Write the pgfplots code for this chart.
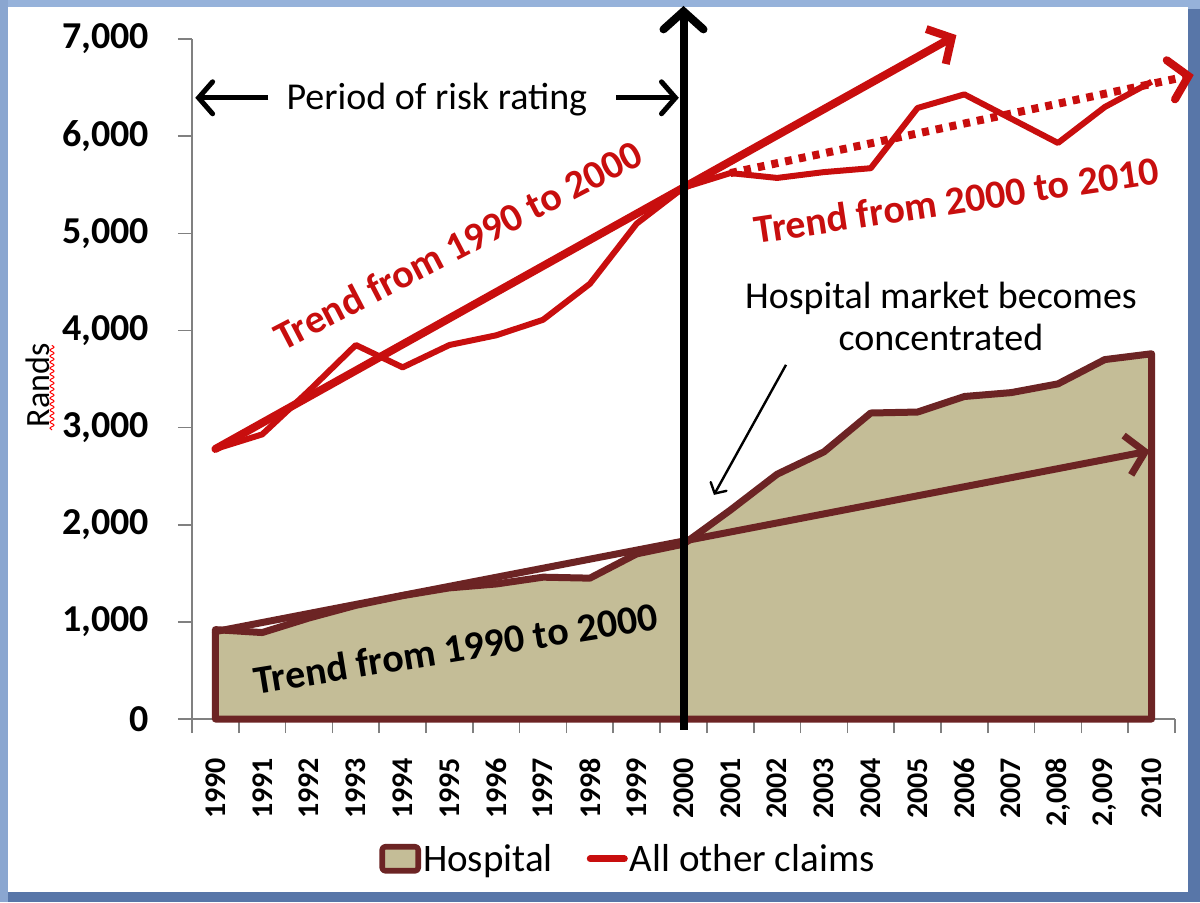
\documentclass[border=0pt]{standalone}
\usepackage{fontspec}
\setmainfont{Carlito}
\usepackage{pgfplots}
\pgfplotsset{compat=1.18}
\usetikzlibrary{arrows.meta,decorations.pathmorphing}
\definecolor{hred}{RGB}{200,14,14}
\definecolor{tanf}{RGB}{196,189,151}
\definecolor{brn}{RGB}{108,36,36}
\definecolor{frameblue}{RGB}{88,118,168}
\definecolor{framelight}{RGB}{150,178,218}
\definecolor{axgray}{RGB}{128,128,128}
\begin{document}
\begin{tikzpicture}
\useasboundingbox (-96pt,-91.5pt) rectangle (504pt,359.5pt);
\fill[frameblue] (-96pt,-91.5pt) rectangle (504pt,359.5pt);
\fill[framelight] (-96pt,355pt) rectangle (504pt,359.5pt);
\fill[framelight!80!frameblue] (-96pt,-91.5pt) rectangle (-92pt,359.5pt);
\fill[white] (-92pt,-86.5pt) rectangle (498pt,356pt);
\begin{axis}[
  at={(0pt,0pt)}, anchor=south west,
  scale only axis, width=491.5pt, height=340pt,
  xmin=-0.5, xmax=20.5, ymin=0, ymax=7000,
  clip=false,
  axis x line*=bottom, axis y line*=left,
  axis line style={axgray, line width=0.8pt, -},
  tick align=outside,
  major tick length=7pt, minor tick length=7pt,
  xtick={0,...,20},
  xticklabels={1990,1991,1992,1993,1994,1995,1996,1997,1998,1999,2000,2001,2002,2003,2004,2005,2006,2007,{2,008},{2,009},2010},
  minor xtick={-0.5,0.5,...,20.5},
  major x tick style={draw=none},
  minor x tick style={axgray, line width=0.8pt},
  major y tick style={axgray, line width=0.8pt},
  xticklabel style={rotate=90, anchor=east, font=\fontsize{15}{15}\selectfont\bfseries, xshift=-9pt},
  ytick={0,1000,...,7000},
  scaled y ticks=false,
  yticklabel style={font=\fontsize{19}{19}\selectfont\bfseries, xshift=-11pt},
  /pgf/number format/.cd, 1000 sep={,}, assume math mode=true,
  /pgfplots/.cd,
  ylabel={Rands},
  ylabel style={at={(axis description cs:-0.157,0.491)}, anchor=center, font=\fontsize{17}{17}\selectfont},
  legend style={at={(0.4435,-0.207)}, anchor=center, legend columns=2, draw=none, fill=none,
    font=\fontsize{19.5}{19.5}\selectfont, nodes={inner xsep=1pt},
    /tikz/every even column/.append style={column sep=16pt}},
]
\addplot[fill=tanf, draw=brn, line width=3.5pt, line join=round,
  legend image code/.code={\draw[fill=tanf,draw=brn,line width=2.8pt,rounded corners=1.5pt] (0pt,-5.5pt) rectangle (18pt,6.5pt);}]
  coordinates {(0,0) (0,920) (1,890) (2,1040) (3,1170) (4,1270) (5,1350) (6,1390) (7,1460) (8,1450) (9,1700) (10,1800)
   (11,2150) (12,2520) (13,2750) (14,3150) (15,3160) (16,3320) (17,3360) (18,3450) (19,3700) (20,3760) (20,0)} -- cycle;
\addlegendentry{Hospital}
\addplot[forget plot, brn, line width=3.5pt, line cap=round, -{Straight Barb[length=9pt,width=20pt]}]
  coordinates {(0,900) (19.96,2760)};
\addplot[hred, line width=3pt, line join=round,
  legend image code/.code={\draw[hred,line width=3.5pt,line cap=round] (1pt,0.5pt) -- (18pt,0.5pt);}]
  coordinates {(0,2780) (1,2930) (2,3380) (3,3850) (4,3620) (5,3850) (6,3950) (7,4110) (8,4480) (9,5100) (10,5470)
   (11,5620) (12,5570) (13,5630) (14,5670) (15,6290) (16,6430) (17,6180) (18,5930) (19,6300) (20,6560)};
\addlegendentry{All other claims}
\addplot[forget plot, hred, line width=4pt, line cap=round, -{Straight Barb[length=9pt,width=20pt]}]
  coordinates {(0,2780) (15.83,7040)};
\addplot[forget plot, hred, line width=4pt, dash pattern=on 3.5pt off 3.5pt, -{Straight Barb[length=9pt,width=20pt,line cap=round]}]
  coordinates {(11,5620) (20.9,6630)};
\addplot[forget plot, black, line width=4pt, -{Straight Barb[length=9pt,width=20pt,line cap=round]}]
  coordinates {(10,-110) (10,7340)};
\addplot[forget plot, black, line width=2.5pt, -{Straight Barb[length=7pt,width=16pt,line cap=round]}]
  coordinates {(1.13,6395) (-0.43,6395)};
\addplot[forget plot, black, line width=2.5pt, -{Straight Barb[length=7pt,width=16pt,line cap=round]}]
  coordinates {(8.56,6395) (9.9,6395)};
\addplot[forget plot, black, line width=1.2pt, -{Straight Barb[length=4pt,width=9pt,line cap=round]}]
  coordinates {(12.19,3646) (10.65,2307)};
\node[font=\fontsize{19}{19}\selectfont] at (axis cs:4.73,6380) {Period of risk rating};
\node[text=hred, font=\fontsize{20}{20}\selectfont\bfseries, rotate=27.5] at (axis cs:5.18,4880) {Trend from 1990 to 2000};
\node[text=hred, font=\fontsize{20}{20}\selectfont\bfseries, rotate=8.5] at (axis cs:15.83,5345) {Trend from 2000 to 2010};
\node[text=black, font=\fontsize{20}{20}\selectfont\bfseries, rotate=9.2] at (axis cs:5.13,731) {Trend from 1990 to 2000};
\node[font=\fontsize{19}{21}\selectfont, align=center] at (axis cs:15.5,4140) {Hospital market becomes\\concentrated};
\draw[red, line width=0.5pt, decorate, decoration={snake, amplitude=1pt, segment length=3pt}]
  (axis description cs:-0.1424,0.425) -- (axis description cs:-0.1424,0.55);
\end{axis}
\end{tikzpicture}
\end{document}
